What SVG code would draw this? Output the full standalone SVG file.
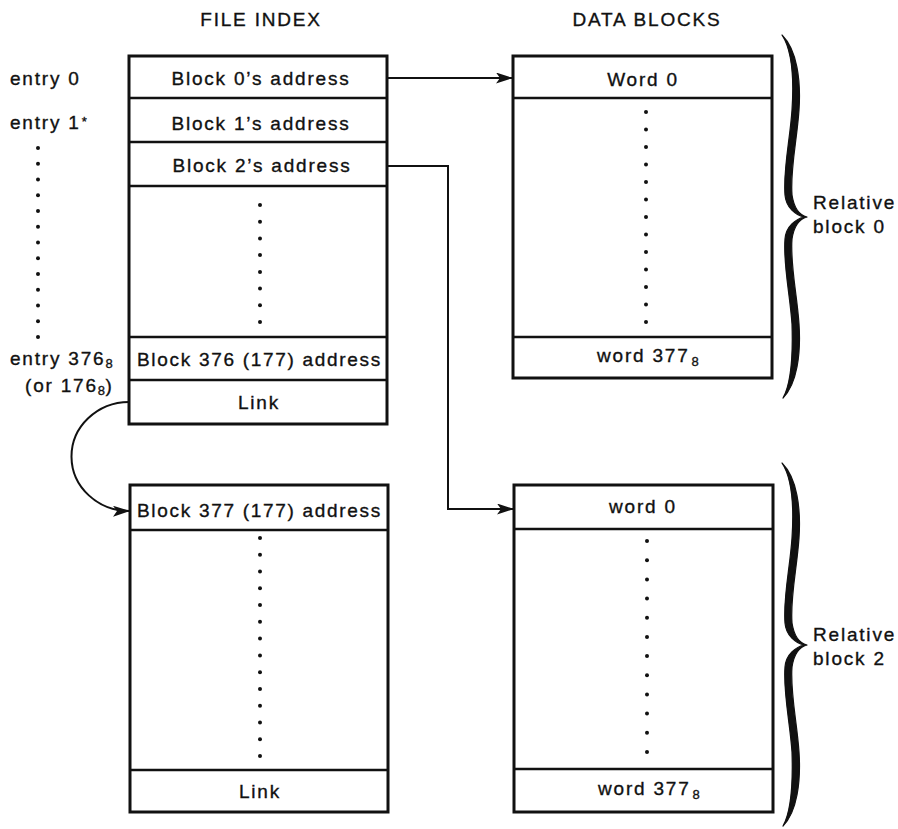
<svg xmlns="http://www.w3.org/2000/svg" width="898" height="829" viewBox="0 0 898 829">
<style>
  text { font-family: "Liberation Sans", Arial, sans-serif; font-size: 19px; letter-spacing: 1.8px; fill: #111; stroke: #111; stroke-width: 0.35px; }
  .c { text-anchor: middle; }
  .sub { font-size: 13px; letter-spacing: 0.5px; }
  .box { fill: #fff; stroke: #111; stroke-width: 3; }
  .div { stroke: #111; stroke-width: 2.5; }
  .conn { fill: none; stroke: #111; stroke-width: 2; }
  .brace { fill: #111; stroke: #111; stroke-width: 1.2; stroke-linejoin: round; }
</style>
<defs>
  <marker id="arr" markerUnits="userSpaceOnUse" markerWidth="19" markerHeight="12" refX="17" refY="5.5" orient="auto">
    <path d="M0,0 L17,5.5 L0,11 L4,5.5 Z" fill="#111"/>
  </marker>
  <circle id="dot" r="2" fill="#111"/>
  <path id="br" d="M782,35 C797,50 801,80 799,110 C797,140 790,170 792,195 C794,208 799,215 807,217 C799,219 794,226 792,239 C790,264 797,294 799,324 C801,354 797,384 783,398 C791,384 793,354 792,324 C790,294 783,264 785,239 C786,226 796,219 804,217 C796,215 786,208 785,195 C783,170 790,140 792,110 C794,80 792,50 782,35 Z"/>
</defs>
<rect width="898" height="829" fill="#fff"/>

<!-- titles -->
<g id="titles">
  <text class="c" x="261" y="26">FILE INDEX</text>
  <text class="c" x="647" y="26">DATA BLOCKS</text>
</g>

<!-- entry labels -->
<g id="entries">
  <text x="10" y="85">entry 0</text>
  <text x="10" y="129">entry 1<tspan class="sub" dx="1" dy="-3">*</tspan></text>
  <g>
    <use href="#dot" x="38" y="148"/><use href="#dot" x="38" y="163.75"/><use href="#dot" x="38" y="179.5"/>
    <use href="#dot" x="38" y="195.25"/><use href="#dot" x="38" y="211"/><use href="#dot" x="38" y="226.75"/>
    <use href="#dot" x="38" y="242.5"/><use href="#dot" x="38" y="258.25"/><use href="#dot" x="38" y="274"/>
    <use href="#dot" x="38" y="289.75"/><use href="#dot" x="38" y="305.5"/><use href="#dot" x="38" y="321.25"/>
    <use href="#dot" x="38" y="337"/>
  </g>
  <text x="10" y="365">entry 376<tspan class="sub" dy="3">8</tspan></text>
  <text x="25" y="392">(or 176<tspan class="sub" dy="3">8</tspan><tspan dy="-3">)</tspan></text>
</g>

<!-- File index (first) -->
<g id="file-index-1">
  <rect class="box" x="129" y="56" width="258" height="368"/>
  <line class="div" x1="129" y1="98" x2="387" y2="98"/>
  <line class="div" x1="129" y1="142" x2="387" y2="142"/>
  <line class="div" x1="129" y1="186" x2="387" y2="186"/>
  <line class="div" x1="129" y1="337" x2="387" y2="337"/>
  <line class="div" x1="129" y1="380" x2="387" y2="380"/>
  <text class="c" x="261" y="85">Block 0’s address</text>
  <text class="c" x="261" y="130">Block 1’s address</text>
  <text class="c" x="262" y="172">Block 2’s address</text>
  <g>
    <use href="#dot" x="260" y="205"/><use href="#dot" x="260" y="221.7"/><use href="#dot" x="260" y="238.4"/>
    <use href="#dot" x="260" y="255.1"/><use href="#dot" x="260" y="271.9"/><use href="#dot" x="260" y="288.6"/>
    <use href="#dot" x="260" y="305.3"/><use href="#dot" x="260" y="322"/>
  </g>
  <text x="137" y="366" textLength="245" lengthAdjust="spacing">Block 376 (177) address</text>
  <text class="c" x="259" y="409">Link</text>
</g>

<!-- Data block (relative block 0) -->
<g id="data-block-0">
  <rect class="box" x="513" y="56" width="259" height="322"/>
  <line class="div" x1="513" y1="98" x2="772" y2="98"/>
  <line class="div" x1="513" y1="337" x2="772" y2="337"/>
  <text class="c" x="643" y="86">Word 0</text>
  <g>
    <use href="#dot" x="646" y="112"/><use href="#dot" x="646" y="129.5"/><use href="#dot" x="646" y="147"/>
    <use href="#dot" x="646" y="164.5"/><use href="#dot" x="646" y="182"/><use href="#dot" x="646" y="199.5"/>
    <use href="#dot" x="646" y="217"/><use href="#dot" x="646" y="234.5"/><use href="#dot" x="646" y="252"/>
    <use href="#dot" x="646" y="269.5"/><use href="#dot" x="646" y="287"/><use href="#dot" x="646" y="304.5"/>
    <use href="#dot" x="646" y="322"/>
  </g>
  <text x="597" y="362">word 377<tspan class="sub" dx="2" dy="4">8</tspan></text>
</g>

<!-- File index (continuation) -->
<g id="file-index-2">
  <rect class="box" x="130" y="485" width="258" height="327"/>
  <line class="div" x1="130" y1="530" x2="388" y2="530"/>
  <line class="div" x1="130" y1="770" x2="388" y2="770"/>
  <text x="137" y="517" textLength="245" lengthAdjust="spacing">Block 377 (177) address</text>
  <g>
    <use href="#dot" x="260" y="538"/><use href="#dot" x="260" y="554.8"/><use href="#dot" x="260" y="571.5"/>
    <use href="#dot" x="260" y="588.3"/><use href="#dot" x="260" y="605.1"/><use href="#dot" x="260" y="621.8"/>
    <use href="#dot" x="260" y="638.6"/><use href="#dot" x="260" y="655.4"/><use href="#dot" x="260" y="672.2"/>
    <use href="#dot" x="260" y="688.9"/><use href="#dot" x="260" y="705.7"/><use href="#dot" x="260" y="722.5"/>
    <use href="#dot" x="260" y="739.2"/><use href="#dot" x="260" y="756"/>
  </g>
  <text class="c" x="260" y="798">Link</text>
</g>

<!-- Data block (relative block 2) -->
<g id="data-block-2">
  <rect class="box" x="514" y="485" width="259" height="327"/>
  <line class="div" x1="514" y1="529" x2="773" y2="529"/>
  <line class="div" x1="514" y1="769" x2="773" y2="769"/>
  <text class="c" x="643" y="513">word 0</text>
  <g>
    <use href="#dot" x="647" y="541"/><use href="#dot" x="647" y="560.2"/><use href="#dot" x="647" y="579.4"/>
    <use href="#dot" x="647" y="598.5"/><use href="#dot" x="647" y="617.7"/><use href="#dot" x="647" y="636.9"/>
    <use href="#dot" x="647" y="656.1"/><use href="#dot" x="647" y="675.3"/><use href="#dot" x="647" y="694.5"/>
    <use href="#dot" x="647" y="713.6"/><use href="#dot" x="647" y="732.8"/><use href="#dot" x="647" y="752"/>
  </g>
  <text x="598" y="795">word 377<tspan class="sub" dx="2" dy="4">8</tspan></text>
</g>

<!-- connectors -->
<g id="connectors">
  <path class="conn" d="M387,78 L513,78" marker-end="url(#arr)"/>
  <path class="conn" d="M387,166 L448,166 L448,509 L514,509" marker-end="url(#arr)"/>
  <path class="conn" d="M129,402 A58,54.5 0 0 0 130,511" marker-end="url(#arr)"/>
</g>

<!-- braces and labels -->
<g id="brace-0">
  <use href="#br" class="brace"/>
  <text x="813" y="209">Relative</text>
  <text x="813" y="233">block 0</text>
</g>
<g id="brace-2">
  <use href="#br" class="brace" transform="translate(0,428)"/>
  <text x="813" y="641">Relative</text>
  <text x="813" y="665">block 2</text>
</g>
</svg>
